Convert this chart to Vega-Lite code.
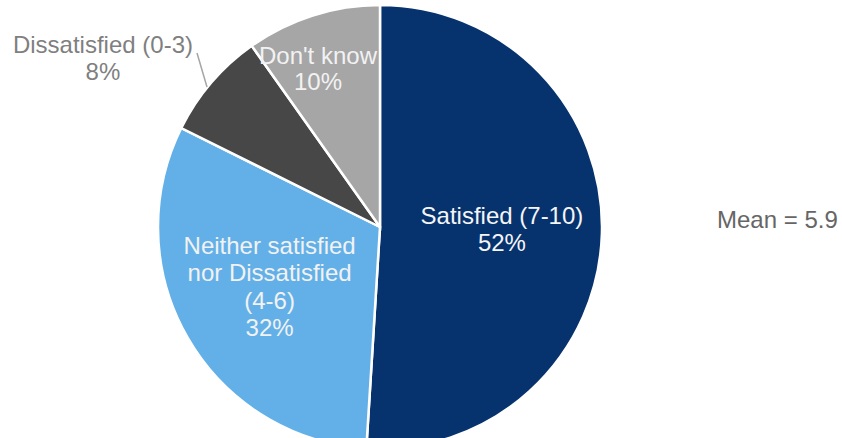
{
  "$schema": "https://vega.github.io/schema/vega-lite/v6.json",
  "autosize": "none",
  "width": 760,
  "height": 454,
  "padding": {"left": 0, "top": 0, "right": 82, "bottom": 0},
  "background": "white",
  "config": {"view": {"stroke": null}, "font": "Liberation Sans"},
  "data": {
    "values": [
      {"cat": "Satisfied (7-10)", "pct": 52, "ord": 1, "label": "Satisfied (7-10)\n52%"},
      {"cat": "Neither satisfied nor Dissatisfied (4-6)", "pct": 32, "ord": 2, "label": "Neither satisfied\nnor Dissatisfied\n(4-6)\n32%"},
      {"cat": "Dissatisfied (0-3)", "pct": 8, "ord": 3, "label": "Dissatisfied (0-3)\n8%"},
      {"cat": "Don't know", "pct": 10, "ord": 4, "label": "Don't know\n10%"}
    ]
  },
  "encoding": {
    "theta": {"field": "pct", "type": "quantitative", "stack": true},
    "order": {"field": "ord", "type": "quantitative"}
  },
  "layer": [
    {
      "mark": {"type": "arc", "radius": 222, "stroke": "white", "strokeWidth": 2.5},
      "encoding": {
        "color": {
          "field": "cat",
          "type": "nominal",
          "legend": null,
          "scale": {
            "domain": ["Satisfied (7-10)", "Neither satisfied nor Dissatisfied (4-6)", "Dissatisfied (0-3)", "Don't know"],
            "range": ["#06326E", "#63B0E8", "#474747", "#A6A6A6"]
          }
        }
      }
    },
    {
      "mark": {"type": "text", "radius": 122, "fontSize": 24, "lineHeight": 27, "fill": "#F5F5F5", "align": "center", "baseline": "middle", "lineBreak": "\n", "dy": -14},
      "encoding": {
        "text": {"condition": {"test": "datum.ord == 1", "field": "label"}, "value": ""}
      }
    },
    {
      "mark": {"type": "text", "radius": 124, "fontSize": 24, "lineHeight": 27.3, "fill": "#F2F2F2", "align": "center", "baseline": "middle", "lineBreak": "\n", "dy": -42, "dx": -3},
      "encoding": {
        "text": {"condition": {"test": "datum.ord == 2", "field": "label"}, "value": ""}
      }
    },
    {
      "mark": {"type": "text", "radius": 165, "fontSize": 24, "lineHeight": 26, "fill": "#F2F2F2", "align": "center", "baseline": "middle", "lineBreak": "\n", "dx": -12, "dy": -13},
      "encoding": {
        "text": {"condition": {"test": "datum.ord == 4", "field": "label"}, "value": ""}
      }
    },
    {
      "mark": {"type": "text", "radius": 324, "fontSize": 24, "lineHeight": 27, "fill": "#7F7F7F", "align": "center", "baseline": "middle", "lineBreak": "\n", "dx": -31, "dy": 30},
      "encoding": {
        "text": {"condition": {"test": "datum.ord == 3", "field": "label"}, "value": ""}
      }
    },
    {
      "data": {"values": [{"leader": "Dissatisfied (0-3)"}]},
      "mark": {"type": "rule", "stroke": "#A6A6A6", "strokeWidth": 1.5},
      "encoding": {
        "theta": null,
        "order": null,
        "x": {"value": 197},
        "y": {"value": 53},
        "x2": {"value": 207},
        "y2": {"value": 87}
      }
    },
    {
      "data": {"values": [{"note": "Mean = 5.9"}]},
      "mark": {"type": "text", "align": "left", "baseline": "middle", "fontSize": 24, "fill": "#666666"},
      "encoding": {
        "theta": null,
        "order": null,
        "x": {"value": 717},
        "y": {"value": 221},
        "text": {"field": "note", "type": "nominal"}
      }
    }
  ]
}
